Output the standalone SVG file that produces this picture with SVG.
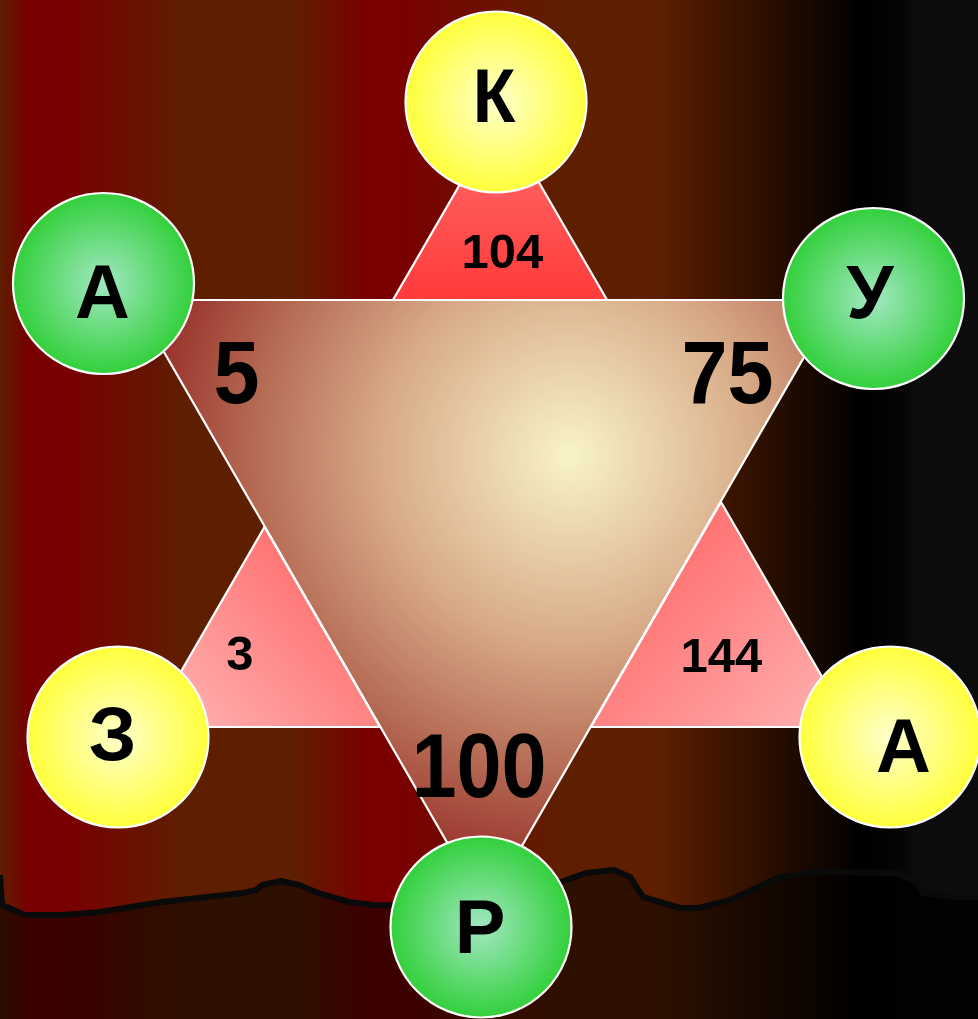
<svg xmlns="http://www.w3.org/2000/svg" width="978" height="1019" viewBox="0 0 978 1019">
<defs>
<linearGradient id="bg" x1="0" y1="0" x2="978" y2="0" gradientUnits="userSpaceOnUse">
<stop offset="0" stop-color="#5e1e00"/>
<stop offset="0.03" stop-color="#780000"/>
<stop offset="0.07" stop-color="#780000"/>
<stop offset="0.19" stop-color="#5e1f00"/>
<stop offset="0.30" stop-color="#5e1f00"/>
<stop offset="0.375" stop-color="#7a0000"/>
<stop offset="0.41" stop-color="#7a0000"/>
<stop offset="0.575" stop-color="#5e1f00"/>
<stop offset="0.67" stop-color="#5e1f00"/>
<stop offset="0.88" stop-color="#000000"/>
<stop offset="0.925" stop-color="#050505"/>
<stop offset="0.935" stop-color="#0c0c0c"/>
<stop offset="1" stop-color="#0c0c0c"/>
</linearGradient>
<linearGradient id="ground" x1="0" y1="0" x2="978" y2="0" gradientUnits="userSpaceOnUse">
<stop offset="0" stop-color="#2a0c00"/>
<stop offset="0.03" stop-color="#3a0000"/>
<stop offset="0.07" stop-color="#3a0000"/>
<stop offset="0.19" stop-color="#2e1000"/>
<stop offset="0.30" stop-color="#2e1000"/>
<stop offset="0.375" stop-color="#3c0000"/>
<stop offset="0.41" stop-color="#3c0000"/>
<stop offset="0.575" stop-color="#2e1000"/>
<stop offset="0.67" stop-color="#2e1000"/>
<stop offset="0.88" stop-color="#000000"/>
<stop offset="1" stop-color="#030303"/>
</linearGradient>
<radialGradient id="big" cx="570" cy="455" r="470" gradientUnits="userSpaceOnUse">
<stop offset="0" stop-color="#f8f4c6"/>
<stop offset="0.4" stop-color="#d8aa88"/>
<stop offset="0.65" stop-color="#b87058"/>
<stop offset="1" stop-color="#8b1818"/>
</radialGradient>
<linearGradient id="topTri" x1="0" y1="0" x2="0" y2="1">
<stop offset="0" stop-color="#ff7070"/>
<stop offset="1" stop-color="#ff3a3a"/>
</linearGradient>
<linearGradient id="leftTri" x1="1" y1="0.2" x2="0" y2="1">
<stop offset="0" stop-color="#ff6262"/>
<stop offset="1" stop-color="#ffb8b8"/>
</linearGradient>
<linearGradient id="rightTri" x1="0" y1="0.2" x2="1" y2="1">
<stop offset="0" stop-color="#ff6262"/>
<stop offset="1" stop-color="#ffb4b4"/>
</linearGradient>
<radialGradient id="yel" cx="0.5" cy="0.5" r="0.5">
<stop offset="0" stop-color="#ffffcc"/>
<stop offset="1" stop-color="#ffff3c"/>
</radialGradient>
<radialGradient id="grn" cx="0.5" cy="0.5" r="0.5">
<stop offset="0" stop-color="#a2e8c2"/>
<stop offset="1" stop-color="#33d03c"/>
</radialGradient>
</defs>
<style>
.tri{stroke:#ffffff;stroke-width:2.2;stroke-linejoin:miter}
.node{stroke:#ffffff;stroke-width:2.2}
.t{font-family:"Liberation Sans",Arial,sans-serif;font-weight:bold;fill:#000;text-anchor:middle}
.lt{font-size:76px}
.sm{font-size:49px}
.bg{font-size:89px}
</style>
<rect x="0" y="0" width="978" height="1019" fill="url(#bg)"/>
<g id="ground-area">
<path d="M0,875 L2,905 L25,915 L62,915 L100,912 L162,902 L243,893 L256,890 L262,885 L281,881 L299,885 L318,893 L349,902 L374,905 L420,906 L540,890 L561,882 L586,873 L614,870 L630,877 L643,897 L680,908 L699,908 L730,900 L780,877 L817,872 L898,873 L917,883 L923,893 L954,897 L978,897 L978,1019 L0,1019 Z" fill="url(#ground)"/>
<path d="M0,875 L2,905 L25,915 L62,915 L100,912 L162,902 L243,893 L256,890 L262,885 L281,881 L299,885 L318,893 L349,902 L374,905 L420,906 L540,890 L561,882 L586,873 L614,870 L630,877 L643,897 L680,908 L699,908 L730,900 L780,877 L817,872 L898,873 L917,883 L923,893 L954,897 L978,897" fill="none" stroke="#0a0a0a" stroke-width="6" stroke-linejoin="round"/>
</g>
<g id="tri-big">
<polygon class="tri" points="134,300 837,300 485.5,909" fill="url(#big)"/>
<text class="t bg" transform="translate(236.5,403) scale(0.93,1)">5</text>
<text class="t bg" transform="translate(727.5,403) scale(0.93,1)">75</text>
<text class="t" style="font-size:90px" transform="translate(479,797) scale(0.9,1)">100</text>
</g>
<g id="tri-top">
<polygon class="tri" points="393,300 607,300 500,115" fill="url(#topTri)"/>
<text class="t sm" x="502.5" y="268">104</text>
</g>
<g id="tri-left">
<polygon class="tri" points="264.5,527 380,727 149,727" fill="url(#leftTri)"/>
<text class="t sm" x="240" y="670">3</text>
</g>
<g id="tri-right">
<polygon class="tri" points="721,502 851,727 591,727" fill="url(#rightTri)"/>
<text class="t sm" x="721.5" y="672">144</text>
</g>
<g id="node-k">
<circle class="node" cx="496" cy="102" r="90.5" fill="url(#yel)"/>
<text class="t lt" transform="translate(494,122) scale(0.92,1)">К</text>
</g>
<g id="node-a1">
<circle class="node" cx="103.5" cy="283.5" r="90.5" fill="url(#grn)"/>
<text class="t lt" x="102.5" y="318">А</text>
</g>
<g id="node-u">
<circle class="node" cx="873.5" cy="298.5" r="90.5" fill="url(#grn)"/>
<text class="t lt" x="870" y="318">У</text>
</g>
<g id="node-z">
<circle class="node" cx="118" cy="737" r="90.5" fill="url(#yel)"/>
<text class="t lt" x="112.5" y="760">З</text>
</g>
<g id="node-a2">
<circle class="node" cx="890" cy="737" r="90.5" fill="url(#yel)"/>
<text class="t lt" x="903.5" y="772">А</text>
</g>
<g id="node-r">
<circle class="node" cx="481" cy="927" r="90.5" fill="url(#grn)"/>
<text class="t lt" x="480" y="953">Р</text>
</g>
</svg>
